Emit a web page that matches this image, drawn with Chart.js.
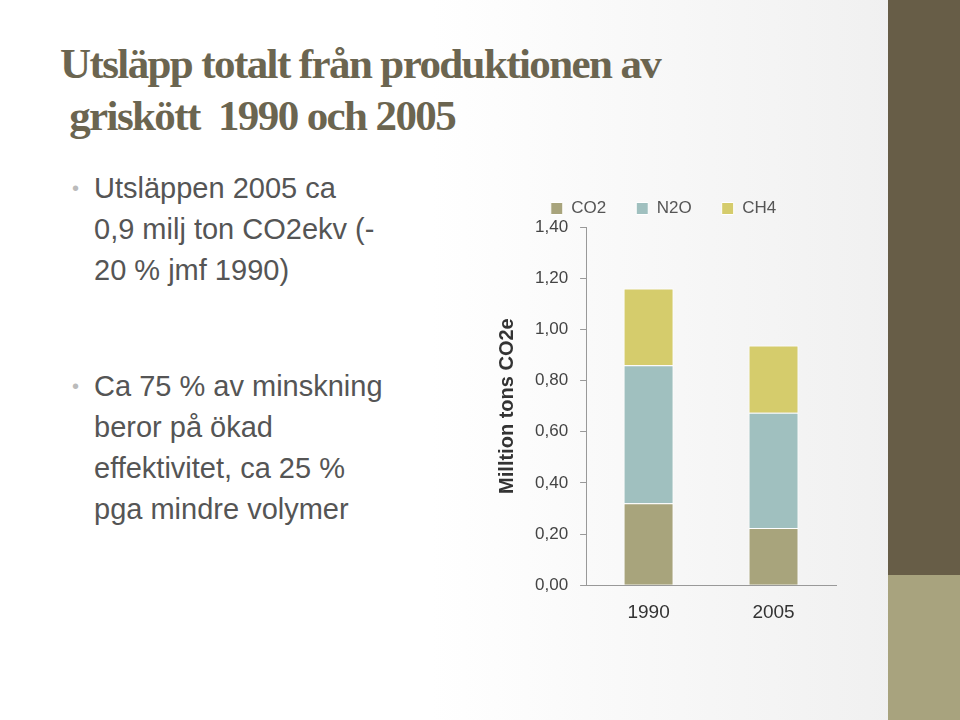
<!DOCTYPE html>
<html><head><meta charset="utf-8">
<script src="https://cdn.jsdelivr.net/npm/chart.js@4"></script>
<style>
body{margin:0;width:960px;height:720px;overflow:hidden;position:relative;background:linear-gradient(90deg,#ffffff 0%,#ffffff 45%,#eeeeee 100%);font-family:"Liberation Sans",sans-serif}
#s1{position:absolute;left:888px;top:0;width:72px;height:575px;background:#675d47}
#s2{position:absolute;left:888px;top:575px;width:72px;height:145px;background:#a8a37e}
#t{position:absolute;left:60px;top:38px;font-family:"Liberation Serif",serif;font-weight:bold;font-size:43px;line-height:52px;color:#6b6550;letter-spacing:-1.6px}
.b{position:absolute;left:72px;font-size:29px;line-height:41px;color:#555;width:380px}
.b span{position:absolute;left:0;color:#bbb;font-size:20px}
.b div{margin-left:22px}
#c{position:absolute;left:491px;top:170px;width:380px;height:472px}
</style></head><body>
<div id="s1"></div><div id="s2"></div>
<div id="t">Utsläpp totalt från produktionen av<br>&nbsp;griskött&nbsp; 1990 och 2005</div>
<div class="b" style="top:168px"><span>•</span><div>Utsläppen 2005 ca<br>0,9 milj ton CO2ekv (-<br>20 % jmf 1990)</div></div>
<div class="b" style="top:366px"><span>•</span><div>Ca 75 % av minskning<br>beror på ökad<br>effektivitet, ca 25 %<br>pga mindre volymer</div></div>
<div id="c"><canvas id="cv"></canvas></div>
<script>
const categories=["1990","2005"];
const co2=[0.32,0.224];
const n2o=[0.54,0.45];
const ch4=[0.30,0.263];
new Chart(document.getElementById('cv'),{type:'bar',
data:{labels:categories,datasets:[
{label:'CO2',data:co2,backgroundColor:'#a8a47c',borderColor:'#fff',borderWidth:1,barPercentage:0.4,categoryPercentage:1},
{label:'N2O',data:n2o,backgroundColor:'#a0c0bf',borderColor:'#fff',borderWidth:1,barPercentage:0.4,categoryPercentage:1},
{label:'CH4',data:ch4,backgroundColor:'#d5cc6c',borderColor:'#fff',borderWidth:1,barPercentage:0.4,categoryPercentage:1}]},
options:{responsive:true,maintainAspectRatio:false,animation:false,
layout:{padding:{right:35,bottom:10}},
plugins:{legend:{position:'top',labels:{boxWidth:12,boxHeight:12,font:{size:17,family:'Liberation Sans'},color:'#555',padding:30}},tooltip:{enabled:false}},
scales:{x:{stacked:true,grid:{display:false},border:{color:'#999'},ticks:{font:{size:19},color:'#333',padding:8}},
y:{stacked:true,min:0,max:1.4,ticks:{stepSize:0.2,font:{size:17},color:'#444',padding:12,callback:v=>v.toFixed(2).replace('.',',')},
grid:{drawOnChartArea:false,drawTicks:true,tickLength:6,color:'#999'},border:{color:'#999'},
title:{display:true,text:'Milltion tons CO2e',font:{size:20,weight:'bold'},color:'#333'}}}}});
</script></body></html>
